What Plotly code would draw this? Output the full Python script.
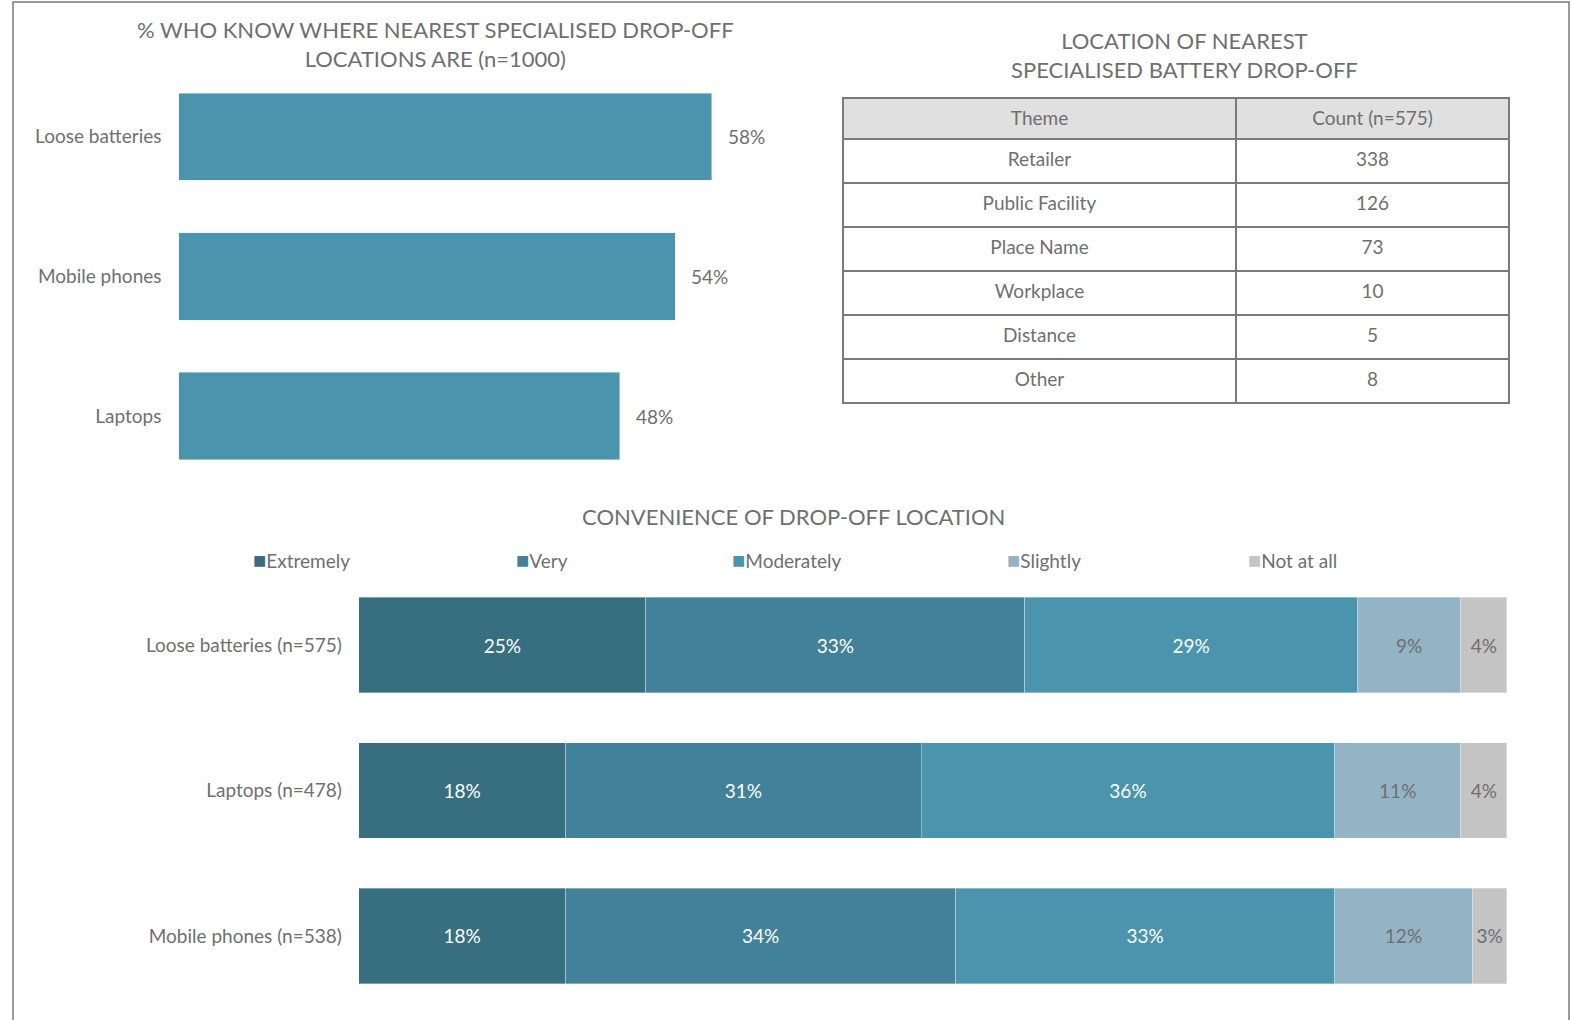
import plotly.graph_objects as go

W, H = 1572, 1020
FONT = "Lato"
GREY = "#6f6f6f"

# ---- data ----
know_cats = ["Loose batteries", "Mobile phones", "Laptops"]
know_vals = [58, 54, 48]

table_themes = ["Retailer", "Public Facility", "Place Name", "Workplace", "Distance", "Other"]
table_counts = [338, 126, 73, 10, 5, 8]
table_headers = ["Theme", "Count (n=575)"]

conv_cats = ["Loose batteries (n=575)", "Laptops (n=478)", "Mobile phones (n=538)"]
conv_levels = ["Extremely", "Very", "Moderately", "Slightly", "Not at all"]
conv_vals = {
    "Extremely": [25, 18, 18],
    "Very": [33, 31, 34],
    "Moderately": [29, 36, 33],
    "Slightly": [9, 11, 12],
    "Not at all": [4, 4, 3],
}
conv_colors = ["#376E80", "#41829A", "#4A94AD", "#93B4C4", "#C4C4C4"]
conv_text_colors = ["white", "white", "white", GREY, GREY]


def px(x):
    return x / W


def py(y):
    return 1 - y / H


def cell_text(s, shift):
    # table text is top-aligned by plotly; lower it to the row's middle
    return f'<span style="font-size:19px;baseline-shift:-{shift}px">{s}</span>'


fig = go.Figure()

# top-left bar chart
fig.add_trace(go.Bar(
    x=know_vals, y=know_cats, orientation="h", marker_color="#4A94AD",
    width=0.625, xaxis="x", yaxis="y", showlegend=False, hoverinfo="skip",
))

# table
fig.add_trace(go.Table(
    domain=dict(x=[px(843), px(1509)], y=[py(408), py(98)]),
    columnwidth=[393, 273],
    header=dict(values=[cell_text(h, 15) for h in table_headers], fill_color="#E0E0E0",
                line=dict(color="#7a7a7a", width=1.5), height=41,
                font=dict(family=FONT, size=6, color=GREY), align="center"),
    cells=dict(values=[[cell_text(t, 19) for t in table_themes],
                       [cell_text(c, 19) for c in table_counts]],
               fill_color="white",
               line=dict(color="#7a7a7a", width=1.5), height=44,
               font=dict(family=FONT, size=6, color=GREY), align="center"),
))

# bottom stacked bar
for lvl, col, tcol in zip(conv_levels, conv_colors, conv_text_colors):
    vals = conv_vals[lvl]
    fig.add_trace(go.Bar(
        x=vals, y=conv_cats, orientation="h", name=lvl,
        marker=dict(color=col, line=dict(color="rgba(255,255,255,0.35)", width=1)),
        width=0.655, text=[f"{v}%" for v in vals], textposition="inside",
        insidetextanchor="middle", textangle=0, constraintext="none",
        textfont=dict(family=FONT, size=19, color=tcol),
        xaxis="x2", yaxis="y2", showlegend=False, hoverinfo="skip",
    ))

annotations = []
# value labels top chart
for c, v in zip(know_cats, know_vals):
    annotations.append(dict(x=v, y=c, xref="x", yref="y", text=f"{v}%",
                            showarrow=False, xanchor="left", xshift=14,
                            font=dict(family=FONT, size=19, color=GREY)))

# titles
annotations.append(dict(x=px(435), y=py(44), xref="paper", yref="paper",
                        text="% WHO KNOW WHERE NEAREST SPECIALISED DROP-OFF<br>LOCATIONS ARE (n=1000)",
                        showarrow=False, xanchor="center", yanchor="middle",
                        font=dict(family=FONT, size=22, color=GREY)))
annotations.append(dict(x=px(1184), y=py(55), xref="paper", yref="paper",
                        text="LOCATION OF NEAREST<br>SPECIALISED BATTERY DROP-OFF",
                        showarrow=False, xanchor="center", yanchor="middle",
                        font=dict(family=FONT, size=22, color=GREY)))
annotations.append(dict(x=px(793), y=py(516), xref="paper", yref="paper",
                        text="CONVENIENCE OF DROP-OFF LOCATION",
                        showarrow=False, xanchor="center", yanchor="middle",
                        font=dict(family=FONT, size=22, color=GREY)))

# legend
legend_x = [251, 514, 730, 1005, 1246]
for lx, lvl, col in zip(legend_x, conv_levels, conv_colors):
    annotations.append(dict(x=px(lx), y=py(559), xref="paper", yref="paper",
                            text=f'<span style="color:{col};font-size:22px">■</span>{lvl}',
                            showarrow=False, xanchor="left", yanchor="middle",
                            font=dict(family=FONT, size=19, color=GREY)))

fig.update_layout(
    width=W, height=H, margin=dict(l=0, r=0, t=0, b=0),
    paper_bgcolor="white", plot_bgcolor="white", barmode="stack",
    font=dict(family=FONT, size=19, color=GREY),
    xaxis=dict(domain=[px(178.5), px(730.2)], range=[0, 60], visible=False, fixedrange=True),
    yaxis=dict(domain=[py(485.8), py(67)], autorange="reversed", showgrid=False,
               showline=False, zeroline=False, ticks="", ticklabelstandoff=16,
               tickfont=dict(family=FONT, size=19, color=GREY), anchor="x"),
    xaxis2=dict(domain=[px(358.9), px(1506.8)], range=[0, 100], visible=False, fixedrange=True,
                anchor="y2"),
    yaxis2=dict(domain=[py(1008.6), py(572.4)], autorange="reversed", showgrid=False,
                showline=False, zeroline=False, ticks="", ticklabelstandoff=16,
                tickfont=dict(family=FONT, size=19, color=GREY), anchor="x2"),
    annotations=annotations,
    shapes=[dict(type="rect", xref="paper", yref="paper", x0=px(13), x1=px(1569),
                 y0=py(1030), y1=py(2), line=dict(color="#7a7a7a", width=1.5))],
)

fig.write_html("out.html", config={"displayModeBar": False},
               post_script="document.body.style.margin='0';")
